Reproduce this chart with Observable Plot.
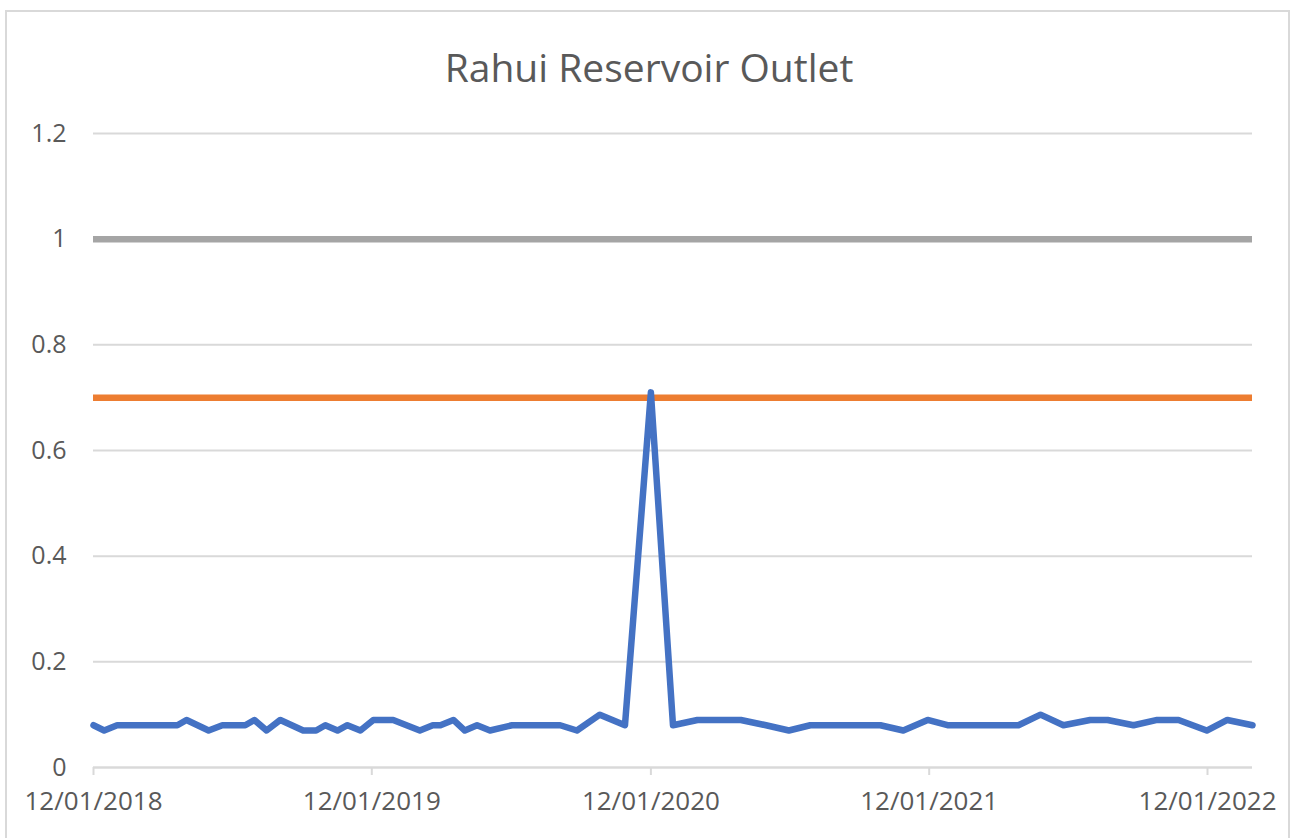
<!DOCTYPE html>
<html>
<head>
<meta charset="utf-8">
<script src="https://cdn.jsdelivr.net/npm/d3@7"></script>
<script src="https://cdn.jsdelivr.net/npm/@observablehq/plot@0.6"></script>
<style>
  html, body { margin: 0; padding: 0; background: #fff; }
  #wrap { position: relative; width: 1301px; height: 838px; overflow: hidden; }
  #border { position: absolute; left: 5px; top: 10px; width: 1281px; height: 850px; border: 2.5px solid #d9d9d9; pointer-events: none; }
</style>
</head>
<body>
<div id="wrap"><div id="border"></div></div>
<script>
const title = "Rahui Reservoir Outlet";
const dates = ["2018-12-01","2018-12-15","2019-01-01","2019-02-01","2019-03-01","2019-03-21","2019-04-02","2019-05-01","2019-05-19","2019-06-18","2019-06-30","2019-07-16","2019-08-03","2019-09-02","2019-09-19","2019-10-01","2019-10-17","2019-10-30","2019-11-16","2019-12-03","2019-12-29","2020-02-02","2020-02-19","2020-02-29","2020-03-17","2020-04-01","2020-04-17","2020-05-04","2020-06-02","2020-07-03","2020-08-04","2020-08-26","2020-09-25","2020-10-28","2020-12-01","2020-12-30","2021-01-31","2021-03-01","2021-03-29","2021-05-01","2021-05-31","2021-06-28","2021-07-31","2021-08-31","2021-09-28","2021-10-28","2021-11-29","2021-12-25","2022-01-25","2022-02-27","2022-03-28","2022-04-26","2022-05-26","2022-06-30","2022-07-23","2022-08-26","2022-09-26","2022-10-24","2022-11-30","2022-12-27","2023-01-29"];
const values = [0.08,0.07,0.08,0.08,0.08,0.08,0.09,0.07,0.08,0.08,0.09,0.07,0.09,0.07,0.07,0.08,0.07,0.08,0.07,0.09,0.09,0.07,0.08,0.08,0.09,0.07,0.08,0.07,0.08,0.08,0.08,0.07,0.10,0.08,0.71,0.08,0.09,0.09,0.09,0.08,0.07,0.08,0.08,0.08,0.08,0.07,0.09,0.08,0.08,0.08,0.08,0.10,0.08,0.09,0.09,0.08,0.09,0.09,0.07,0.09,0.08];
const upperLimit = 1.0;
const lowerLimit = 0.7;
const xTickDates = ["2018-12-01","2019-12-01","2020-12-01","2021-12-01","2022-12-01"];
const yTicks = [0, 0.2, 0.4, 0.6, 0.8, 1, 1.2];

const parse = d3.utcParse("%Y-%m-%d");
const data = dates.map((d, i) => ({date: parse(d), value: values[i]}));
const xDomain = [parse(dates[0]), parse(dates[dates.length - 1])];
const xTicks = xTickDates.map(parse);

const chart = Plot.plot({
  width: 1301,
  height: 838,
  marginLeft: 93,
  marginRight: 49,
  marginTop: 133,
  marginBottom: 71,
  style: {fontFamily: "'Open Sans', sans-serif", fontSize: "26px", color: "#595959", background: "transparent"},
  x: {type: "utc", domain: xDomain},
  y: {domain: [0, 1.2]},
  marks: [
    Plot.gridY(yTicks, {stroke: "#d9d9d9", strokeOpacity: 1, strokeWidth: 2}),
    Plot.axisY(yTicks, {tickSize: 0, tickPadding: 27, fontSize: 25, tickFormat: d => String(+d.toFixed(1)), fill: "#595959", label: null}),
    Plot.axisX(xTicks, {tickSize: 8, tickPadding: 16, fontSize: 26, stroke: "#d9d9d9", strokeWidth: 2, fill: "#595959", tickFormat: d3.utcFormat("%m/%d/%Y"), label: null}),
    Plot.ruleY([0], {stroke: "#d9d9d9", strokeWidth: 2}),
    Plot.ruleY([upperLimit], {stroke: "#a5a5a5", strokeWidth: 6.5}),
    Plot.ruleY([lowerLimit], {stroke: "#ed7d31", strokeWidth: 6.5}),
    Plot.line(data, {x: "date", y: "value", stroke: "#4472c4", strokeWidth: 6.5, strokeLinejoin: "round", strokeLinecap: "round"}),
    Plot.text([title], {frameAnchor: "top", dx: -24, dy: -79, fontSize: 39, fill: "#595959"})
  ]
});
document.getElementById("wrap").prepend(chart);
</script>
</body>
</html>
